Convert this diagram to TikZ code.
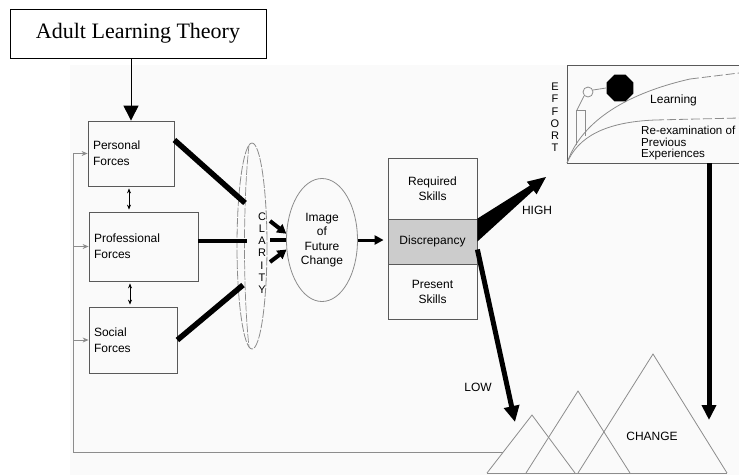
\documentclass[tikz,border=0pt]{standalone}
\usepackage{fontspec}
\setmainfont{Liberation Sans}
\newfontfamily\titleserif{Liberation Serif}
\usepackage{tikz}
\usetikzlibrary{positioning,shapes.geometric,arrows.meta}

\definecolor{scan}{gray}{0.98}
\definecolor{boxgray}{gray}{0.35}
\definecolor{linegray}{gray}{0.55}
\definecolor{discgray}{gray}{0.80}

\begin{document}
\begin{tikzpicture}[x=1pt,y=-1pt,
	forcebox/.style={draw=boxgray,line width=0.8pt,inner xsep=5pt,align=left,font=\fontsize{12}{16}\selectfont},
	skillbox/.style={draw=boxgray,line width=0.8pt,minimum width=89pt,align=center,font=\fontsize{12}{15}\selectfont},
	lbl/.style={font=\fontsize{12}{14}\selectfont},
	forceline/.style={line width=5.5pt},
	fbline/.style={draw=linegray,line width=0.9pt,-{Stealth[length=6pt,width=5pt]}},
	dblarr/.style={line width=0.7pt,{Stealth[length=5pt,width=4pt]}-{Stealth[length=5pt,width=4pt]},shorten <=2pt,shorten >=2pt},
	tri/.style={draw=linegray,line width=0.8pt},
	curve/.style={draw=linegray,line width=0.8pt}]

		\useasboundingbox (0,0) rectangle (739,475);
		\clip (0,0) rectangle (739,475);

		% Scanned figure
		\fill[scan] (70,65) rectangle (739,475);

		% Theory box
		\node[draw,line width=0.9pt,minimum width=256pt,minimum height=49pt,font=\titleserif\fontsize{22}{24}\selectfont] (alt) at (138,33.5) {Adult Learning Theory};

		% Forces
		\node[forcebox,text width=76pt,minimum height=65pt] (pers) at (131,153.5) {Personal\\Forces};
		\node[forcebox,text width=99pt,minimum height=69pt] (prof) at (143.5,246.5) {Professional\\Forces};
		\node[forcebox,text width=78pt,minimum height=66pt] (soc) at (133,340) {Social\\Forces};

		\draw[line width=1pt,-{Triangle[length=15pt,width=15pt]}] (alt.south -| pers.north) -- (pers.north);

		\coordinate (d1) at (129,0);
		\coordinate (d2) at (130,0);
		\draw[dblarr] (d1 |- pers.south) -- (d1 |- prof.north);
		\draw[dblarr] (d2 |- prof.south) -- (d2 |- soc.north);

		% Clarity lens
		\draw[linegray,line width=0.8pt,dash pattern=on 9pt off 1.5pt] (252,246) ellipse (15 and 103);
		\draw[linegray,line width=0.7pt,dash pattern=on 9pt off 1.5pt] (249,145) .. controls (243,200) and (243,292) .. (249,347);
		\node[lbl,align=center,font=\fontsize{11}{12.2}\selectfont] (clar) at (262,253) {C\\L\\A\\R\\I\\T\\Y};

		\coordinate (lp) at (245,203);
		\coordinate (lq) at (247,241);
		\coordinate (ls) at (243,285);
		\draw[forceline] ([yshift=13.5pt]pers.east) -- (lp);
		\draw[line width=4.5pt] ([yshift=5.5pt]prof.east) -- (lq);
		\draw[forceline] (soc.east) -- (ls);

		% Image of future change
		\node[draw=linegray,line width=0.8pt,ellipse,minimum width=71pt,minimum height=123pt,inner sep=0pt,align=center,font=\fontsize{12}{14.5}\selectfont] (img) at (322,240) {Image\\of\\Future\\Change};

		\coordinate (a1) at (270,221);
		\coordinate (a2) at (270,240);
		\coordinate (a3) at (270,262);
		\draw[line width=4pt,-{Triangle[length=9pt,width=10pt]}] (a1) -- (img.170);
		\draw[line width=4pt] (a2) -- (img.west);
		\draw[line width=4pt,-{Triangle[length=9pt,width=10pt]}] (a3) -- (img.195);

		% Skills
		\node[skillbox,minimum height=61pt] (req) at (432.5,188.5) {Required\\Skills};
		\node[skillbox,minimum height=45pt,fill=discgray] (disc) at (432.5,241.5) {Discrepancy};
		\node[skillbox,minimum height=55pt] (pres) at (432.5,291.5) {Present\\Skills};

		\draw[line width=3pt,-{Triangle[length=9pt,width=9pt]},shorten >=4pt] (img.east) -- (img.east -| disc.west);

		% High and low
		\coordinate (hightip) at (546,177);
		\fill (disc.north east) -- (529.9,185.6) -- (526.8,181.7) -- (hightip) -- (536.6,194.3) -- (533.5,190.4) -- (disc.east) -- cycle;
		\node[lbl] (high) at (537,210) {HIGH};

		\coordinate (lowtip) at (515,422);
		\draw[line width=5pt,-{Triangle[length=16pt,width=15pt]}] ([yshift=-8pt]disc.east) -- (lowtip);
		\node[lbl] (low) at (478,387) {LOW};

		% Effort chart
		\node[draw=boxgray,line width=0.8pt,minimum width=182pt,minimum height=98pt,inner sep=0pt] (chart) at (658,114) {};
		\node[lbl,align=center,font=\fontsize{11}{12.2}\selectfont] (eff) at (555,117.5) {E\\F\\F\\O\\R\\T};

		\draw[curve] (567,163) .. controls (580,125) and (620,95) .. (690,79);
		\draw[curve,dash pattern=on 9pt off 3pt] (690,79) -- (739,73);
		\draw[curve] (567,163) .. controls (578,137) and (605,122) .. (655,120);
		\draw[curve,dash pattern=on 9pt off 3pt] (655,120) -- (739,118);
		\draw[curve] (576,145) -- (576,110) -- (585,110) -- (585,136);
		\draw[curve] (577,110) -- (584,96);
		\draw[curve] (588,92) circle (5);
		\draw[curve] (593,90) -- (606,88);
		\node[regular polygon,regular polygon sides=8,fill=black,minimum size=29pt,inner sep=0pt] (ball) at (620,88) {};

		\node[lbl,anchor=west,inner sep=0pt] (lrn) at (650,100) {Learning};
		\node[lbl,anchor=west,inner sep=0pt,align=left,font=\fontsize{11.6}{11.5}\selectfont] (reex) at (641,143) {Re-examination of\\Previous\\Experiences};

		\coordinate (cd) at (709,420);
		\draw[line width=5pt,-{Triangle[length=15pt,width=14pt]}] (cd |- chart.south) -- (cd);

		% Change
		\draw[tri] (487,473) -- (532,415) -- (575,473);
		\draw[tri] (526,473) -- (578,391) -- (630,473);
		\draw[tri] (578,473) -- (653,354) -- (727,473);
		\draw[tri] (487,473) -- (727,473);
		\node[lbl] (change) at (652,436) {CHANGE};

		% Feedback
		\coordinate (tfoot) at (503,452);
		\coordinate (fbl) at (73,452);
		\draw[fbline] (tfoot) -- (fbl) |- (pers.west);
		\draw[fbline] (fbl |- prof.west) -- (prof.west);
		\draw[fbline] (fbl |- soc.west) -- (soc.west);

	\end{tikzpicture}
\end{document}
